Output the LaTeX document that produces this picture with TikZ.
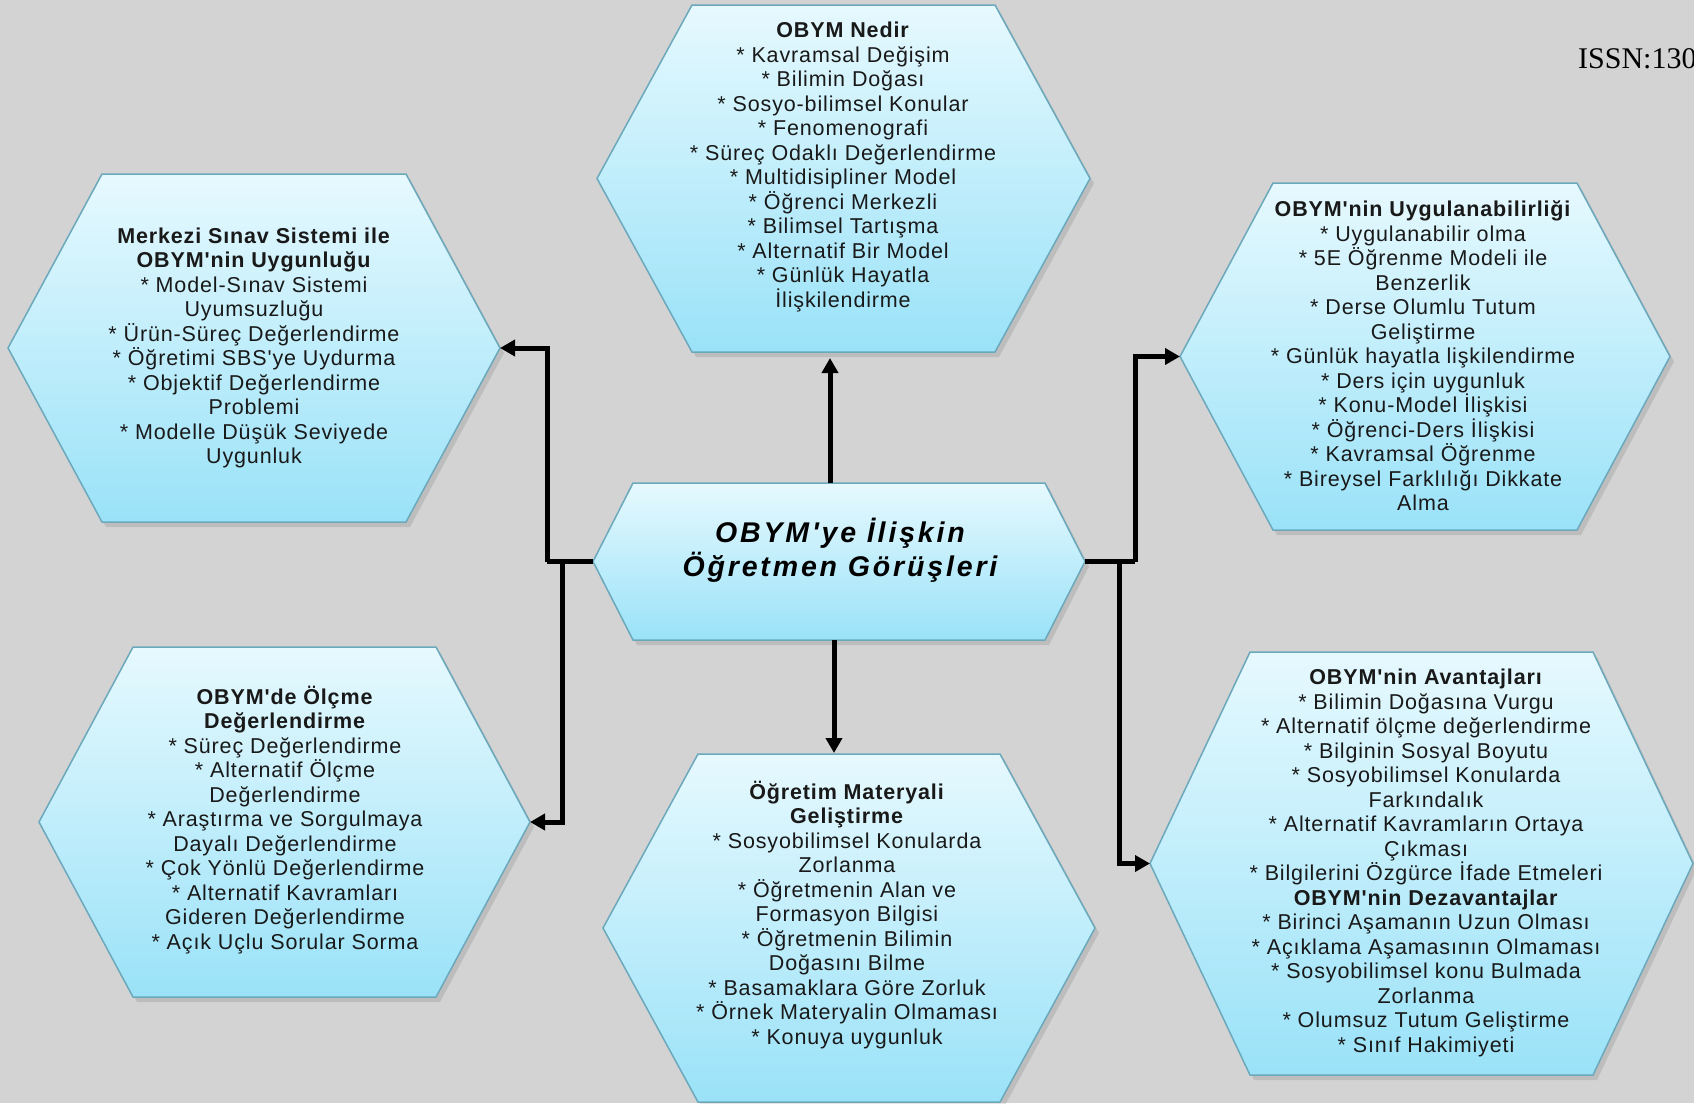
\documentclass[tikz,border=0pt]{standalone}
\usepackage{fontspec}
\setmainfont{Liberation Sans}
\newfontfamily\hexfont[LetterSpace=4]{Liberation Sans}
\newfontfamily\midfont[LetterSpace=10]{Liberation Sans}
\newfontfamily\issnfont{Liberation Serif}
\usetikzlibrary{arrows.meta}
\definecolor{bg}{RGB}{211,211,211}
\definecolor{hextop}{RGB}{230,249,254}
\definecolor{hexbot}{RGB}{154,226,248}
\definecolor{hexline}{RGB}{108,168,188}
\definecolor{txtcol}{RGB}{25,25,25}
\tikzset{
  hexstyle/.style={top color=hextop, bottom color=hexbot, draw=hexline, line width=1.5pt},
  hexshadow/.style={fill=black, opacity=0.10},
  txt/.style={align=center, inner sep=0pt, text=txtcol, font={\hexfont\fontsize{21.5}{24.5}\selectfont}},
  plainline/.style={line width=5pt, line join=miter},
  conn/.style={line width=5pt, line join=miter, -{Triangle[length=15pt,width=16pt]}}
}
% name, cx, cy, half width, half height, inset
\newcommand\hexbox[6]{%
  \fill[hexshadow] ({#2-#4+4},{#3+5}) -- ({#2-#4+#6+4},{#3-#5+5}) -- ({#2+#4-#6+4},{#3-#5+5}) -- ({#2+#4+4},{#3+5}) -- ({#2+#4-#6+4},{#3+#5+5}) -- ({#2-#4+#6+4},{#3+#5+5}) -- cycle;
  \draw[hexstyle] ({#2-#4},#3) coordinate (#1-l) -- ({#2-#4+#6},{#3-#5}) -- ({#2+#4-#6},{#3-#5}) -- ({#2+#4},#3) coordinate (#1-r) -- ({#2+#4-#6},{#3+#5}) -- ({#2-#4+#6},{#3+#5}) -- cycle;
}
\begin{document}
\begin{tikzpicture}[x=1pt,y=-1pt]
\useasboundingbox (0,0) rectangle (1694,1103);
\fill[bg] (0,0) rectangle (1694,1103);
\clip (0,0) rectangle (1694,1103);

% hexagons
\hexbox{T}{843.5}{178.5}{246.5}{173.5}{95}
\hexbox{UL}{254}{348}{246}{174}{94}
\hexbox{UR}{1425}{356.5}{245}{173.5}{93}
\hexbox{LL}{284.5}{822}{245.5}{175}{94}
\hexbox{B}{849}{928}{246}{174}{95}
\hexbox{C}{839}{561.5}{246}{78.5}{40}
\hexbox{LR}{1421.5}{863.5}{271.5}{211.5}{100}

% texts
\node[txt] (Ttxt) at (843,167) {\textbf{OBYM Nedir}\\
* Kavramsal Değişim\\
* Bilimin Doğası\\
* Sosyo-bilimsel Konular\\
* Fenomenografi\\
* Süreç Odaklı Değerlendirme\\
* Multidisipliner Model\\
* Öğrenci Merkezli\\
* Bilimsel Tartışma\\
* Alternatif Bir Model\\
* Günlük Hayatla\\
İlişkilendirme};

\node[txt] (ULtxt) at (254,348) {\textbf{Merkezi Sınav Sistemi ile}\\
\textbf{OBYM'nin Uygunluğu}\\
* Model-Sınav Sistemi\\
Uyumsuzluğu\\
* Ürün-Süreç Değerlendirme\\
* Öğretimi SBS'ye Uydurma\\
* Objektif Değerlendirme\\
Problemi\\
* Modelle Düşük Seviyede\\
Uygunluk};

\node[txt] (URtxt) at (1423,356) {\textbf{OBYM'nin Uygulanabilirliği}\\
* Uygulanabilir olma\\
* 5E Öğrenme Modeli ile\\
Benzerlik\\
* Derse Olumlu Tutum\\
Geliştirme\\
* Günlük hayatla lişkilendirme\\
* Ders için uygunluk\\
* Konu-Model İlişkisi\\
* Öğrenci-Ders İlişkisi\\
* Kavramsal Öğrenme\\
* Bireysel Farklılığı Dikkate\\
Alma};

\node[txt] (LLtxt) at (285,820) {\textbf{OBYM'de Ölçme}\\
\textbf{Değerlendirme}\\
* Süreç Değerlendirme\\
* Alternatif Ölçme\\
Değerlendirme\\
* Araştırma ve Sorgulmaya\\
Dayalı Değerlendirme\\
* Çok Yönlü Değerlendirme\\
* Alternatif Kavramları\\
Gideren Değerlendirme\\
* Açık Uçlu Sorular Sorma};

\node[txt] (Btxt) at (847,915) {\textbf{Öğretim Materyali}\\
\textbf{Geliştirme}\\
* Sosyobilimsel Konularda\\
Zorlanma\\
* Öğretmenin Alan ve\\
Formasyon Bilgisi\\
* Öğretmenin Bilimin\\
Doğasını Bilme\\
* Basamaklara Göre Zorluk\\
* Örnek Materyalin Olmaması\\
* Konuya uygunluk};

\node[txt] (LRtxt) at (1426,863) {\textbf{OBYM'nin Avantajları}\\
* Bilimin Doğasına Vurgu\\
* Alternatif ölçme değerlendirme\\
* Bilginin Sosyal Boyutu\\
* Sosyobilimsel Konularda\\
Farkındalık\\
* Alternatif Kavramların Ortaya\\
Çıkması\\
* Bilgilerini Özgürce İfade Etmeleri\\
\textbf{OBYM'nin Dezavantajlar}\\
* Birinci Aşamanın Uzun Olması\\
* Açıklama Aşamasının Olmaması\\
* Sosyobilimsel konu Bulmada\\
Zorlanma\\
* Olumsuz Tutum Geliştirme\\
* Sınıf Hakimiyeti};

\node[align=center, inner sep=0pt, text=black, font={\midfont\fontsize{28.5}{34}\selectfont\bfseries\itshape}] (Ctxt) at (840,550) {OBYM'ye İlişkin\\Öğretmen Görüşleri};

\node[anchor=base west, inner sep=0pt, text=black, font={\issnfont\fontsize{30}{36}\selectfont}] (issn) at (1578,68) {ISSN:130};

% connectors
\coordinate (jUL) at (547,561.5);
\coordinate (jLL) at (562,561.5);
\coordinate (jUR) at (1135,561.5);
\coordinate (jLR) at (1119,561.5);
\coordinate (C-t) at (830,483);
\coordinate (T-b) at (830,358);
\coordinate (C-b) at (834,640);
\coordinate (B-t) at (834,753);

\draw[plainline] (C-l) -- (jUL);
\draw[conn] (jUL) |- (UL-r);
\draw[conn] (jLL) |- (LL-r);
\draw[plainline] (C-r) -- (jUR);
\draw[conn] (jUR) |- (UR-l);
\draw[conn] (jLR) |- (LR-l);
\draw[conn] (C-t) -- (T-b);
\draw[conn] (C-b) -- (B-t);
\end{tikzpicture}
\end{document}
